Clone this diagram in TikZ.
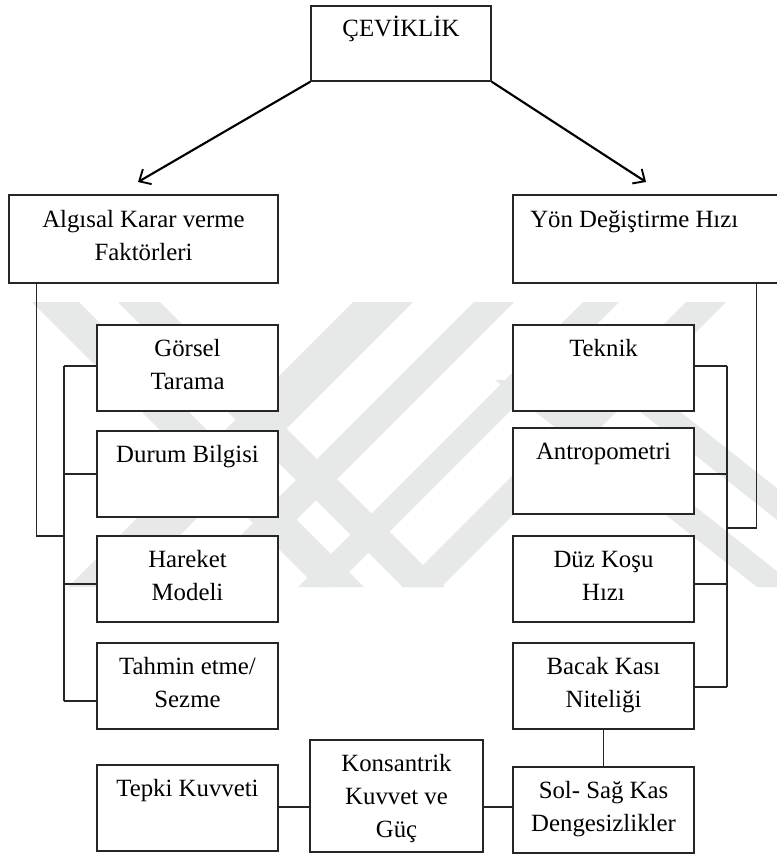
\documentclass[tikz,border=0pt]{standalone}
\usepackage{fontspec}
\setmainfont{Liberation Serif}
\usetikzlibrary{arrows.meta,calc}
\definecolor{wmgray}{RGB}{231,232,232}
\begin{document}
\begin{tikzpicture}[x=0.75pt,y=-0.75pt,
  box/.style={draw=black!85, fill=white, line width=1.1pt, inner sep=0pt,
              minimum width=135.75pt, minimum height=64.5pt},
  txt/.style={inner sep=0pt, anchor=north, align=center,
              font=\fontsize{18.6pt}{24.8pt}\selectfont},
  conn/.style={line width=1pt, draw=black!85},
  arr/.style={line width=1.6pt, -{Straight Barb[length=7pt,width=13pt,line width=1.4pt]}},
  wm/.style={fill=wmgray, draw=none}]
\useasboundingbox (0,0) rectangle (776,856);
\fill[white] (0,0) rectangle (776,856);

% watermark bands
\fill[wm] (32,302) -- (79,302) -- (364,587) -- (317,587) -- cycle;
\fill[wm] (118,302) -- (160,302) -- (445,587) -- (403,587) -- cycle;
\fill[wm] (353,302) -- (413,302) -- (128,587) -- (68,587) -- cycle;
\fill[wm] (474,302) -- (514,302) -- (229,587) -- (189,587) -- cycle;
\fill[wm] (583,302) -- (619,302) -- (334,587) -- (298,587) -- cycle;
\fill[wm] (686,302) -- (726,302) -- (441,587) -- (401,587) -- cycle;
\fill[wm] (495,380) -- (535,380) -- (797,587) -- (757,587) -- cycle;
\fill[wm] (600,380) -- (640,380) -- (902,587) -- (862,587) -- cycle;

% boxes
\node[box, minimum width=135pt, minimum height=56.25pt] (cev) at (401,43.5) {};
\node[txt] (cev-t) at ($(cev.north)+(0,7.9)$) {\strut ÇEVİKLİK};

\node[box, minimum width=201.75pt, minimum height=66pt] (alg) at (143.5,239) {};
\node[txt] (alg-t) at ($(alg.north)+(0,9.5)$) {\strut Algısal Karar verme\\Faktörleri};

\node[box, minimum width=207.75pt, minimum height=66pt] (yon) at (651.5,239) {};
\node[txt, anchor=north west] (yon-t) at (530,204.5) {\strut Yön Değiştirme Hızı};

\node[box] (gor) at (187.5,368) {};
\node[txt] (gor-t) at ($(gor.north)+(0,8.9)$) {\strut Görsel\\Tarama};
\node[box] (dur) at (187.5,474) {};
\node[txt] (dur-t) at ($(dur.north)+(0,8.9)$) {\strut Durum Bilgisi};
\node[box] (har) at (187.5,579) {};
\node[txt] (har-t) at ($(har.north)+(0,8.9)$) {\strut Hareket\\Modeli};
\node[box] (tah) at (187.5,686) {};
\node[txt] (tah-t) at ($(tah.north)+(0,8.9)$) {\strut Tahmin etme/\\Sezme};

\node[box] (tek) at (603.5,368) {};
\node[txt] (tek-t) at ($(tek.north)+(0,8.9)$) {\strut Teknik};
\node[box] (ant) at (603.5,471) {};
\node[txt] (ant-t) at ($(ant.north)+(0,8.9)$) {\strut Antropometri};
\node[box] (duz) at (603.5,579) {};
\node[txt] (duz-t) at ($(duz.north)+(0,8.9)$) {\strut Düz Koşu\\Hızı};
\node[box] (bac) at (603.5,686) {};
\node[txt] (bac-t) at ($(bac.north)+(0,8.9)$) {\strut Bacak Kası\\Niteliği};

\node[box] (tep) at (187.5,808) {};
\node[txt] (tep-t) at ($(tep.north)+(0,8.9)$) {\strut Tepki Kuvveti};
\node[box, minimum width=129.75pt, minimum height=84pt] (kon) at (396.5,796) {};
\node[txt] (kon-t) at ($(kon.north)+(0,8.9)$) {\strut Konsantrik\\Kuvvet ve\\Güç};
\node[box] (sol) at (603.5,810) {};
\node[txt] (sol-t) at ($(sol.north)+(0,8.9)$) {\strut Sol- Sağ Kas\\Dengesizlikler};

% arrows
\coordinate (aL) at (138,182);
\coordinate (aR) at (646,182);
\draw[arr] (cev.south west) -- (aL);
\draw[arr] (cev.south east) -- (aR);

% left tree
\coordinate (Lj) at (64,536);
\coordinate (L1) at (64,366);
\coordinate (L2) at (64,474);
\coordinate (L3) at (64,584);
\coordinate (L4) at (64,701);
\draw[conn] ($(alg.south west)+(28,0)$) |- (Lj);
\draw[conn] (L1) -- (L4);
\draw[conn] (L1) -- (L1 -| gor.west);
\draw[conn] (L2) -- (L2 -| dur.west);
\draw[conn] (L3) -- (L3 -| har.west);
\draw[conn] (L4) -- (L4 -| tah.west);

% right tree
\coordinate (Rj) at (727,528);
\coordinate (R1) at (727,366);
\coordinate (R2) at (727,474);
\coordinate (R3) at (727,584);
\coordinate (R4) at (727,687);
\draw[conn] ($(yon.south west)+(244,0)$) |- (Rj);
\draw[conn] (R1) -- (R4);
\draw[conn] (R1) -- (R1 -| tek.east);
\draw[conn] (R2) -- (R2 -| ant.east);
\draw[conn] (R3) -- (R3 -| duz.east);
\draw[conn] (R4) -- (R4 -| bac.east);

% bottom row
\coordinate (Bm) at (400,807);
\draw[conn] (bac.south) -- (sol.north);
\draw[conn] (Bm -| tep.east) -- (Bm -| kon.west);
\draw[conn] (Bm -| kon.east) -- (Bm -| sol.west);
\end{tikzpicture}
\end{document}
